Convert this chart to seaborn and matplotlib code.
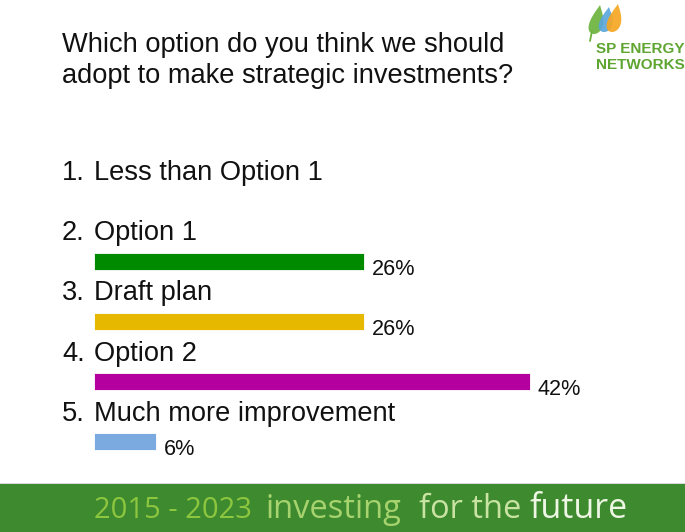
#!/usr/bin/env python3

import numpy as np
import pandas as pd
import seaborn as sns
from matplotlib import pyplot as plt
from matplotlib.patches import Polygon, Rectangle
from matplotlib import transforms


question_lines = ["Which option do you think we should", "adopt to make strategic investments?"]
option_numbers = ["1.", "2.", "3.", "4.", "5."]
option_names = ["Less than Option 1", "Option 1", "Draft plan", "Option 2", "Much more improvement"]
option_pcts = [0, 26, 26, 42, 6]
bar_colors = ["#7f7f7f", "#008a00", "#e6b800", "#b4009e", "#7aaae0"]
banner_parts = ["2015 - 2023", "investing", "for the", "future"]
banner_colors = ["#8dc63f", "#a6d36e", "#c9e3a3", "#eef6e4"]

W, H, DPI = 685, 532, 100
px_per_pct = 10.38
text_col = "#111111"

sns.set_theme(style="white")
plt.rcParams["font.family"] = ["Liberation Sans", "DejaVu Sans"]

fig = plt.figure(figsize=(W / DPI, H / DPI), dpi=DPI)
fig.patch.set_facecolor("white")


def px_to_fig(x, y):
    return x / W, 1 - y / H


# bar area: x=0 at px 94, category 0 centred at px 201, ~60 px per row
left_px, row0_px, row_px = 94, 201, 60.2
ylo, yhi = -0.6, 4.6
top_px = row0_px + ylo * row_px
bot_px = row0_px + yhi * row_px
ax = fig.add_axes([left_px / W, 1 - bot_px / H, 1 - left_px / W, (bot_px - top_px) / H])

df = pd.DataFrame({"option": option_names, "pct": option_pcts})
sns.barplot(
    data=df, x="pct", y="option", hue="option", palette=bar_colors,
    order=option_names, legend=False, width=0.28, ax=ax,
    edgecolor="white", linewidth=0.6, saturation=1,
)
ax.set_xlim(0, (W - left_px) / px_per_pct)
ax.set_ylim(yhi, ylo)
ax.set_axis_off()

pt = 72 / DPI
for i, (num, name, pct) in enumerate(zip(option_numbers, option_names, option_pcts)):
    lab_tr = transforms.offset_copy(ax.transData, fig=fig, x=0, y=21 * pt, units="points")
    num_tr = transforms.offset_copy(ax.transData, fig=fig, x=-32 * pt, y=21 * pt, units="points")
    ax.text(0, i, num, transform=num_tr, fontsize=19.6, color=text_col,
            ha="left", va="baseline", clip_on=False)
    ax.text(0, i, name, transform=lab_tr, fontsize=19.6, color=text_col,
            ha="left", va="baseline", clip_on=False)
    if pct > 0:
        pct_tr = transforms.offset_copy(ax.transData, fig=fig, x=8 * pt, y=-13.5 * pt, units="points")
        ax.text(pct, i, f"{pct}%", transform=pct_tr, fontsize=15.6, color=text_col,
                ha="left", va="baseline", clip_on=False)

# question
for k, line in enumerate(question_lines):
    fig.text(*px_to_fig(62, 52 + 31 * k), line, fontsize=19.6, color=text_col,
             ha="left", va="baseline")


# logo: three flame-shaped leaves
def leaf(bx, by, w, h, tilt, col):
    t = np.linspace(0, 2 * np.pi, 100)
    xs = 0.5 * w * np.sin(t) * np.sin(t / 2) ** 1.2
    ys = h * (1 + np.cos(t)) / 2
    xs = xs + tilt * ys / h
    pts = [px_to_fig(bx + x, by - y) for x, y in zip(xs, ys)]
    fig.patches.append(Polygon(pts, closed=True, transform=fig.transFigure,
                               facecolor=col, edgecolor="none", alpha=0.92))


leaf(594, 34, 19, 29, 6, "#6db33f")
leaf(604, 32, 18, 25, 5, "#5aa6dc")
leaf(612, 32, 19, 28, 6, "#f5a623")
fig.lines.append(plt.Line2D([590 / W, 592 / W], [1 - 41 / H, 1 - 31 / H], transform=fig.transFigure,
                            color="#6db33f", lw=1.3))
fig.text(*px_to_fig(596, 53), "SP ENERGY", fontsize=11, fontweight="bold", color="#5fa532",
         ha="left", va="baseline")
fig.text(*px_to_fig(596, 69), "NETWORKS", fontsize=11, fontweight="bold", color="#5fa532",
         ha="left", va="baseline")

# bottom banner
fig.patches.append(Rectangle((0, 0), 1, 48 / H, transform=fig.transFigure,
                             facecolor="#3e8a2f", edgecolor="none"))
fig.patches.append(Rectangle((0, 48 / H), 1, 1.5 / H, transform=fig.transFigure,
                             facecolor="#d9d9d9", edgecolor="none"))
banner_x = [94, 265, 419, 530]
banner_sizes = [21, 23.5, 23.5, 24.5]
for part, col, bx, fs in zip(banner_parts, banner_colors, banner_x, banner_sizes):
    fig.text(*px_to_fig(bx, 518), part, fontsize=fs, color=col, family=["Open Sans", "DejaVu Sans"],
             ha="left", va="baseline")

fig.savefig("out.png", dpi=DPI)
